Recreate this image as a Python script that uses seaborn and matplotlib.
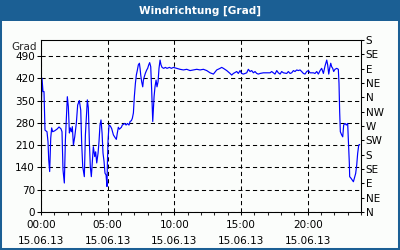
import matplotlib
matplotlib.use("Agg")
import matplotlib.pyplot as plt
from matplotlib.patches import Rectangle
import seaborn as sns
import pandas as pd
import numpy as np

# ---- data (hours since 00:00, wind direction in degrees) ----
hours = [
    0.0, 0.075, 0.15, 0.225, 0.3, 0.45, 0.525, 0.58, 0.65, 0.73, 0.8, 0.875, 1.03, 1.225, 1.35, 1.5,
    1.575, 1.65, 1.75, 1.83, 1.975, 2.05, 2.13, 2.2, 2.28, 2.35, 2.43, 2.53, 2.65, 2.75, 2.875, 2.98,
    3.05, 3.13, 3.25, 3.33, 3.475, 3.55, 3.63, 3.7, 3.775, 3.925, 4.03, 4.1, 4.18, 4.28, 4.35, 4.425,
    4.5, 4.58, 4.65, 4.73, 4.8, 4.88, 4.95, 4.98, 5.03, 5.10,
    5.2, 5.3, 5.43, 5.55, 5.65, 5.72, 5.80, 5.88, 5.95, 6.03, 6.10, 6.2, 6.28, 6.38, 6.48, 6.60,
    6.68, 6.78, 6.85, 6.93, 7.0, 7.08, 7.15, 7.23, 7.30, 7.38, 7.43, 7.48, 7.55, 7.63, 7.68, 7.75,
    7.83, 7.93, 8.0, 8.08, 8.15, 8.23, 8.30, 8.38, 8.43, 8.48, 8.55, 8.63, 8.70, 8.78, 8.85, 8.93,
    9.0, 9.08, 9.2, 9.33, 9.45, 9.63, 9.78, 9.93,
    10.18, 10.43, 10.68, 10.93, 11.18, 11.43, 11.68, 11.93, 12.18, 12.43, 12.68, 12.93, 13.18, 13.43,
    13.55, 13.68, 13.93, 14.18, 14.3, 14.43, 14.68, 14.8, 14.93, 15.05, 15.18, 15.43, 15.55, 15.68,
    15.8, 15.93, 16.05, 16.18, 16.3, 16.43, 16.68, 16.93, 17.18, 17.3, 17.43, 17.55, 17.68, 17.8,
    17.93, 18.05, 18.18, 18.43, 18.55, 18.68, 18.8, 18.93, 19.05, 19.18, 19.3, 19.43, 19.55, 19.68,
    19.8, 19.93, 20.05, 20.18, 20.43, 20.55, 20.68, 20.8, 20.93, 21.05, 21.18, 21.3, 21.43, 21.5,
    21.58, 21.65, 21.73, 21.8, 21.88, 21.95, 22.05, 22.18, 22.3,
    22.35, 22.4, 22.45, 22.55, 22.63, 22.7, 22.8, 22.9, 23.0, 23.08, 23.13, 23.15, 23.25, 23.35,
    23.43, 23.5, 23.6, 23.68, 23.75, 23.83, 23.9,
]
degrees = [
    283, 420, 378, 378, 257, 252, 221, 163, 127, 232, 264, 252, 255, 261, 267, 261,
    252, 132, 91, 226, 362, 331, 248, 264, 252, 268, 210, 236, 279, 336, 350, 320,
    216, 142, 111, 242, 352, 327, 216, 142, 111, 205, 174, 189, 154, 185, 221, 273,
    289, 248, 185, 158, 122, 116, 80, 154, 226, 273,
    270, 262, 242, 234, 228, 247, 266, 260, 263, 266, 273, 276, 278, 273, 278, 273,
    284, 287, 294, 311, 362, 404, 430, 446, 462, 467, 451, 430, 409, 393, 414, 425,
    436, 446, 451, 462, 469, 456, 383, 284, 320, 362, 393, 414, 393, 409, 451, 477,
    462, 454, 451, 454, 451, 454, 451, 454,
    451, 448, 446, 448, 444, 446, 448, 446, 448, 444, 437, 433, 446, 451,
    454, 451, 444, 435, 430, 435, 441, 435, 444, 435, 433, 437, 448, 441,
    444, 437, 441, 435, 433, 435, 437, 437, 437, 441, 437, 433, 444, 437,
    433, 441, 437, 435, 441, 435, 437, 444, 441, 446, 444, 446, 441, 435,
    433, 441, 444, 437, 437, 435, 441, 433, 444, 451, 435, 458, 477, 462,
    433, 451, 467, 456, 451, 441, 448, 451, 448,
    404, 315, 252, 242, 236, 273, 278, 273, 278, 195, 148, 111, 106, 100,
    95, 106, 121, 148, 184, 210, 212,
]
left_ticks = [0, 70, 140, 210, 280, 350, 420, 490]
right_ticks = [0, 45, 90, 135, 180, 225, 270, 315, 360, 405, 450, 495, 540]
right_labels = ["N", "NE", "E", "SE", "S", "SW", "W", "NW", "N", "NE", "E", "SE", "S"]
x_ticks = [0, 5, 10, 15, 20]
x_labels = ["00:00\n15.06.13", "05:00\n15.06.13", "10:00\n15.06.13",
            "15:00\n15.06.13", "20:00\n15.06.13"]
title = "Windrichtung [Grad]"
unit_label = "Grad"

df = pd.DataFrame({"h": hours, "deg": degrees})

sns.set_style("ticks")
plt.rcParams["font.family"] = ["DejaVu Sans"]

BLUE = "#1b5f94"
BG = "#fbfdfb"
W, H = 400, 250
fig = plt.figure(figsize=(4, 2.5), dpi=100)
fig.patch.set_facecolor(BG)

ax = fig.add_axes([41 / W, 1 - 212 / H, 320 / W, 172 / H])
ax.set_facecolor(BG)
sns.lineplot(data=df, x="h", y="deg", ax=ax, color="#0000ff", lw=0.85)

ax.set_xlim(0, 24)
ax.set_ylim(0, 540)
ax.set_xlabel("")
ax.set_ylabel("")
ax.set_yticks(left_ticks)
ax.set_xticks(x_ticks)
ax.set_xticklabels(x_labels, linespacing=1.8)
ax.set_xticks(np.arange(0, 25, 1), minor=True)
ax.grid(True, which="major", color="black", linestyle=(0, (4, 3)), lw=0.75)
for s in ax.spines.values():
    s.set_visible(True)
    s.set_color("black")
    s.set_linewidth(0.75)
ax.tick_params(axis="y", which="major", length=3, width=0.75, pad=1.5,
               labelsize=7.5, colors="black")
ax.tick_params(axis="x", which="major", length=2.5, width=0.75, pad=3,
               labelsize=7.5, colors="black")
ax.tick_params(axis="x", which="minor", length=2.5, width=0.75)

ax2 = ax.twinx()
ax2.set_ylim(0, 540)
ax2.set_yticks(right_ticks)
ax2.set_yticklabels(right_labels)
ax2.tick_params(axis="y", length=2.5, width=0.75, pad=1, labelsize=7.5, colors="black")
for s in ax2.spines.values():
    s.set_color("black")
    s.set_linewidth(0.75)

fig.text(37 / W, 1 - 47 / H, unit_label, ha="right", va="center", fontsize=7.5)

# title bar and border
fig.patches.append(Rectangle((0, 1 - 21 / H), 1, 21 / H, transform=fig.transFigure,
                             facecolor=BLUE, edgecolor="none", zorder=0))
fig.patches.append(Rectangle((0, 0), 1, 1, transform=fig.transFigure, fill=False,
                             edgecolor=BLUE, lw=2.9, zorder=5))
fig.text(0.5, 1 - 10.5 / H, title, ha="center", va="center", color="white",
         fontsize=7.6, fontweight="bold")

fig.savefig("out.png", dpi=100, facecolor=BG)
